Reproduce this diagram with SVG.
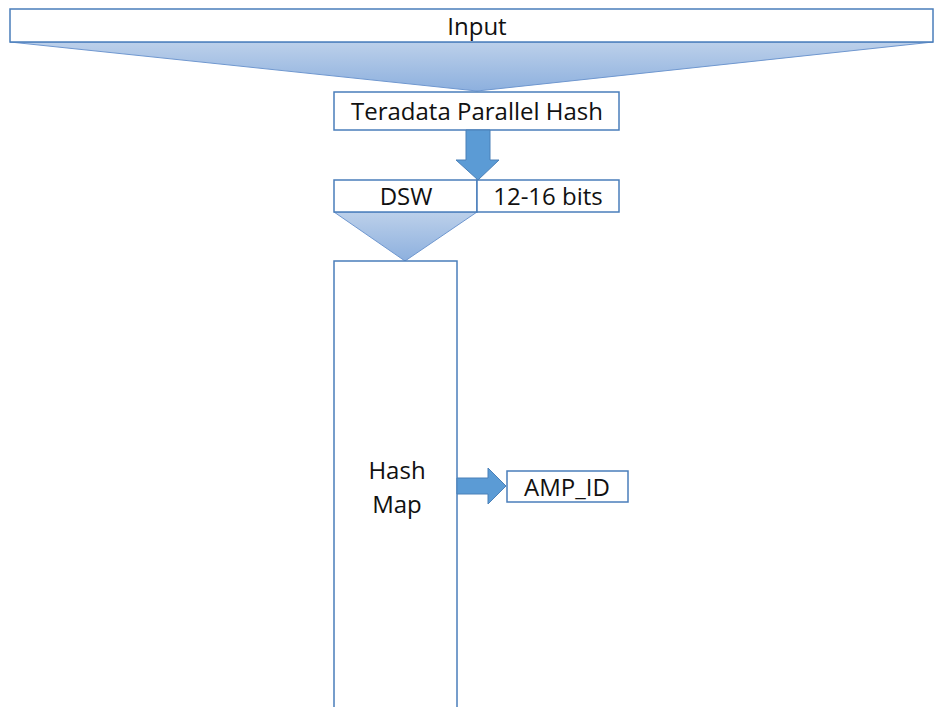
<svg xmlns="http://www.w3.org/2000/svg" width="934" height="707" viewBox="0 0 934 707">
<defs>
<linearGradient id="fun" x1="0" y1="0" x2="0" y2="1">
<stop offset="0" stop-color="#bcd0ea"/>
<stop offset="1" stop-color="#8db0de"/>
</linearGradient>
<style>
.box{fill:#fff;stroke:#4a7ebb;stroke-width:1.5}
.fun{fill:url(#fun);stroke:#6f97cf;stroke-width:1}
.arr{fill:#5b9bd5;stroke:#4a80b8;stroke-width:1}
text{font-family:"Open Sans","Liberation Sans",sans-serif;font-size:24px;fill:#111;text-anchor:middle;dominant-baseline:central}
</style>
</defs>
<rect width="934" height="707" fill="#fff"/>
<g id="funnels">
<polygon class="fun" points="10,42 933,42 477,91"/>
<polygon class="fun" points="334,212 477,212 405,261"/>
</g>
<g id="input"><rect class="box" x="10" y="9" width="923" height="33"/><text x="477" y="25">Input</text></g>
<g id="tph"><rect class="box" x="334" y="92" width="285" height="38"/><text x="477" y="110">Teradata Parallel Hash</text></g>
<g id="dsw"><rect class="box" x="334" y="180" width="143" height="32"/><text x="406" y="195">DSW</text></g>
<g id="bits"><rect class="box" x="477" y="180" width="142" height="32"/><text x="548" y="195">12-16 bits</text></g>
<g id="hashmap"><rect class="box" x="334" y="261" width="123" height="460"/><text x="397" y="469">Hash</text><text x="397" y="503">Map</text></g>
<g id="ampid"><rect class="box" x="507" y="471" width="121" height="31"/><text x="567" y="486">AMP_ID</text></g>
<g id="connectors">
<polygon class="arr" points="466,130 490,130 490,160 499,160 478,180 456,160 466,160"/>
<polygon class="arr" points="457,478 488,478 488,468 506,486 488,504 488,494 457,494"/>
</g>
</svg>
